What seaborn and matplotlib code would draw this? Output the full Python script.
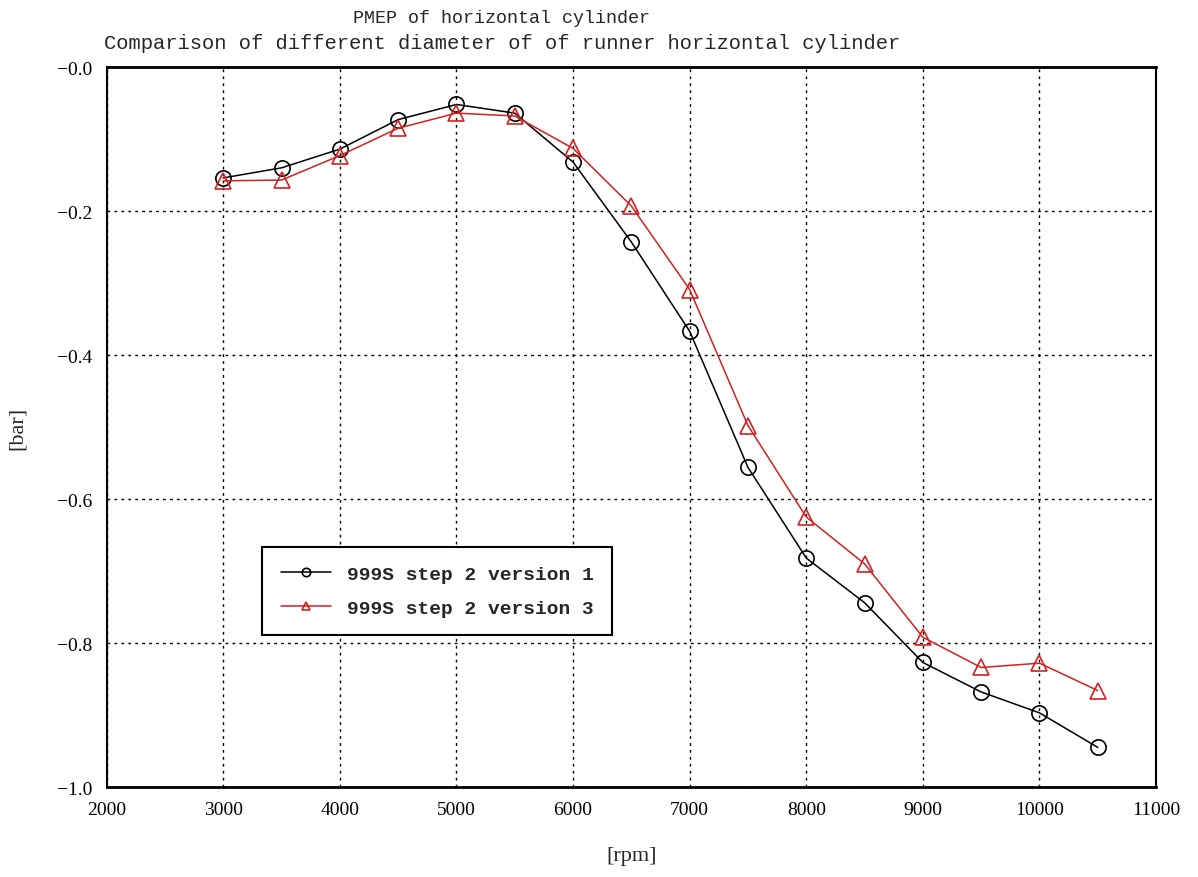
import matplotlib
matplotlib.use("Agg")
import matplotlib.pyplot as plt
import seaborn as sns
import pandas as pd

rpm = [3000, 3500, 4000, 4500, 5000, 5500, 6000, 6500, 7000, 7500,
       8000, 8500, 9000, 9500, 10000, 10500]
version1 = [-0.154, -0.140, -0.114, -0.073, -0.052, -0.064, -0.132, -0.243,
            -0.367, -0.556, -0.682, -0.744, -0.827, -0.868, -0.897, -0.945]
version3 = [-0.158, -0.157, -0.123, -0.085, -0.064, -0.068, -0.113, -0.193,
            -0.309, -0.498, -0.625, -0.690, -0.792, -0.834, -0.828, -0.866]
labels = ["999S step 2 version 1", "999S step 2 version 3"]
x_ticks = [2000, 3000, 4000, 5000, 6000, 7000, 8000, 9000, 10000, 11000]
y_ticks = [-1.0, -0.8, -0.6, -0.4, -0.2, 0.0]
y_tick_labels = ["\u22121.0", "\u22120.8", "\u22120.6", "\u22120.4", "\u22120.2", "\u22120.0"]

sns.set_style("white")
plt.rcParams['font.family'] = ['Liberation Serif', 'DejaVu Sans']
serif = ['Liberation Serif', 'DejaVu Serif']
mono = ['Liberation Mono', 'DejaVu Sans Mono']

df1 = pd.DataFrame({"rpm": rpm, "bar": version1})
df3 = pd.DataFrame({"rpm": rpm, "bar": version3})

fig = plt.figure(figsize=(11.98, 8.78), dpi=100)
ax = fig.add_axes([0.089, 0.1025, 0.876, 0.820])

sns.lineplot(data=df1, x="rpm", y="bar", ax=ax, color="black", lw=1.1,
             marker="o", markersize=11, markerfacecolor="none",
             markeredgecolor="black", markeredgewidth=1.2, label=labels[0])
sns.lineplot(data=df3, x="rpm", y="bar", ax=ax, color="#d42020", lw=1.1,
             marker="^", markersize=11, markerfacecolor="none",
             markeredgecolor="#d42020", markeredgewidth=1.2, label=labels[1])

ax.set_xlim(2000, 11000)
ax.set_ylim(-1.0, 0.0)
ax.set_xticks(x_ticks)
ax.set_xticklabels([str(t) for t in x_ticks], fontsize=14, family=serif)
ax.set_yticks(y_ticks)
ax.set_yticklabels(y_tick_labels, fontsize=14, family=serif)
ax.tick_params(direction="out", length=5, width=1.2, colors="black", pad=5)
ax.grid(True, color="black", linestyle=(0, (2, 3)), linewidth=1.0)
for s in ["bottom", "top"]:
    ax.spines[s].set_linewidth(2.0)
for s in ["left", "right"]:
    ax.spines[s].set_linewidth(1.5)
for s in ax.spines.values():
    s.set_color("black")

ax.set_xlabel("[rpm]", fontsize=16, labelpad=20, family=serif)
ax.set_ylabel("[bar]", fontsize=16, labelpad=22, family=serif)

fig.text(0.419, 0.979, "PMEP of horizontal cylinder", ha="center", va="center",
         fontsize=13.2, family=mono)
fig.text(0.419, 0.950, "Comparison of different diameter of of runner horizontal cylinder",
         ha="center", va="center", fontsize=14.8, family=mono)

leg = ax.legend(loc="lower left", bbox_to_anchor=(0.139, 0.197),
                prop={"family": mono, "size": 14, "weight": "bold"},
                frameon=True, fancybox=False, edgecolor="black", framealpha=1,
                borderpad=0.95, labelspacing=0.85, handlelength=2.6, markerscale=0.55)
leg.get_frame().set_linewidth(1.5)

fig.savefig("out.png", dpi=100)
